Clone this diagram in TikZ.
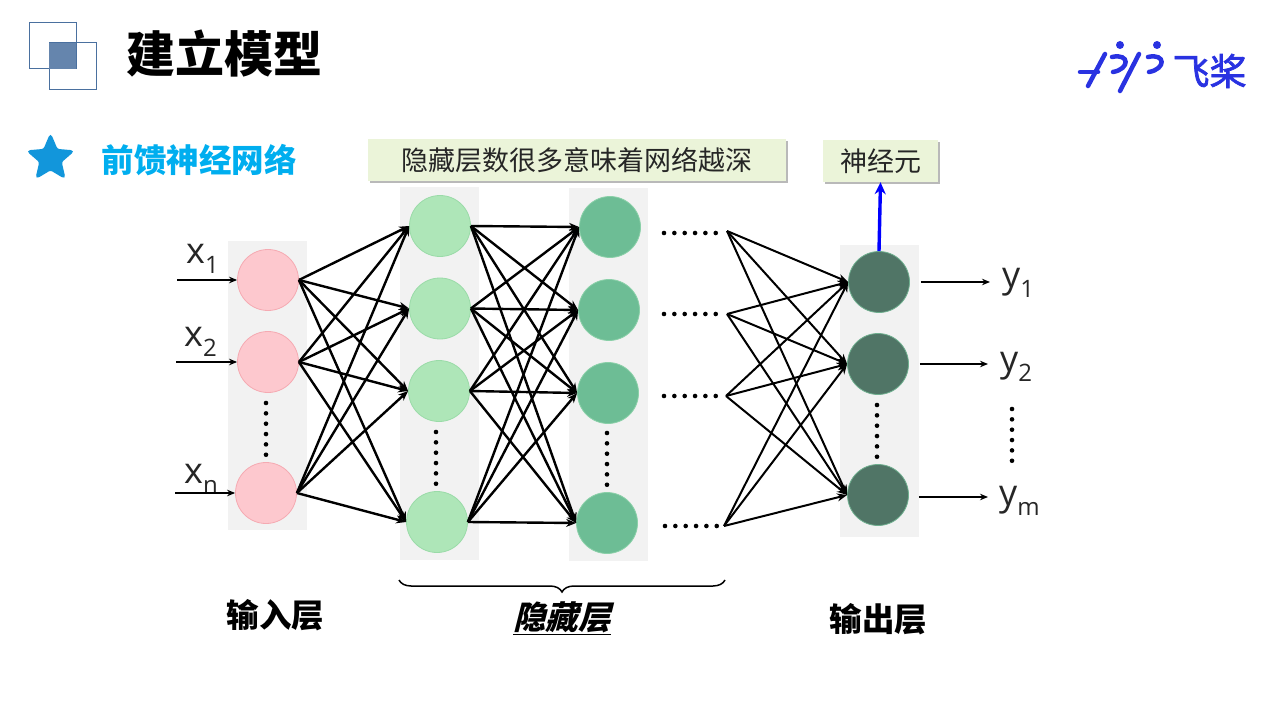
\documentclass[tikz,border=0pt]{standalone}
\usepackage{fontspec}
\setmainfont{Open Sans}
\newfontfamily\cjk{Noto Sans CJK SC}
\newfontfamily\cjkslant[FakeSlant=0.25]{Noto Sans CJK SC}
\newfontfamily\cjklogo[FakeBold=2]{Noto Sans CJK SC}
\usetikzlibrary{arrows.meta,shapes.geometric,shadows,decorations.pathreplacing}

\definecolor{layergray}{HTML}{F2F2F2}
\definecolor{notefill}{HTML}{EBF4D9}
\definecolor{skyblue}{HTML}{00AEEF}
\definecolor{starblue}{HTML}{1296DB}
\definecolor{squareblue}{HTML}{4A709F}
\definecolor{logoblue}{HTML}{2932E1}
\definecolor{inptfill}{HTML}{FDC8CE}
\definecolor{inptline}{HTML}{F5AAB2}
\definecolor{hidafill}{HTML}{AEE6B8}
\definecolor{hidaline}{HTML}{9ADBA8}
\definecolor{hidbfill}{HTML}{6DBD95}
\definecolor{hidbline}{HTML}{8AD0A8}
\definecolor{outpfill}{HTML}{507566}
\definecolor{outpline}{HTML}{6FAF8F}

\newcommand{\sublabel}[2]{#1{\fontsize{24}{24}\selectfont\raisebox{-10pt}{#2}}}

\begin{document}
\begin{tikzpicture}[
  x=1pt, y=-1pt,
  layerbox/.style={fill=layergray, minimum width=79pt, inner sep=0pt},
  neuron/.style={circle, draw, line width=0.8pt, minimum size=61pt, inner sep=0pt},
  inpt/.style={neuron, fill=inptfill, draw=inptline},
  hida/.style={neuron, fill=hidafill, draw=hidaline},
  hidb/.style={neuron, fill=hidbfill, draw=hidbline},
  outp/.style={neuron, fill=outpfill, draw=outpline},
  edge/.style={-{Stealth[length=10pt,width=8pt]}, line width=2.4pt, black},
  thinedge/.style={-{Stealth[length=8pt,width=6.5pt]}, line width=1.8pt, black},
  dotrow/.style={line width=4.6pt, line cap=round, dash pattern=on 0pt off 10.35pt, black},
  var/.style={font=\fontsize{36}{36}\selectfont, inner sep=0pt, anchor=base west, text=black!85},
  note/.style={fill=notefill, minimum height=42pt, inner sep=0pt, drop shadow={shadow xshift=1.5pt, shadow yshift=-2pt, fill=black!55},
    font=\cjk\fontsize{27}{27}\selectfont, text=black!85},
  layername/.style={font=\cjk\bfseries\fontsize{32.5}{32.5}\selectfont, inner sep=0pt},
  logostroke/.style={line width=4.5pt, logoblue, line cap=round},
]
\useasboundingbox (0,0) rectangle (1269,714);

% header
\draw[squareblue, line width=1pt] (29,23) rectangle (76,69);
\draw[squareblue, line width=1pt] (49,43) rectangle (96,90);
\fill[squareblue!85] (49,43) rectangle (76,69);
\node[font=\cjk\bfseries\fontsize{49}{49}\selectfont, inner sep=0pt] (title) at (224.5,54) {建立模型};
\node[star, star points=5, star point ratio=2.2, fill=starblue, draw=starblue, line width=2pt, rounded corners=2.5pt,
  minimum size=47pt, inner sep=0pt] (mark) at (50.5,158.5) {};
\node[font=\cjk\bfseries\fontsize{32.5}{32.5}\selectfont, text=skyblue, inner sep=0pt] (subtitle) at (199,160) {前馈神经网络};

% logo
\draw[logostroke] (1080,72) -- (1098,72);
\draw[logostroke] (1105,54) -- (1088,86);
\draw[logostroke] (1139,54) -- (1120,91);
\draw[logostroke] (1112,57) .. controls (1130,53) and (1130,69) .. (1113,72);
\draw[logostroke] (1148,57) .. controls (1166,53) and (1166,69) .. (1149,72);
\fill[logoblue] (1120,45) circle (4pt) (1157,45) circle (4pt);
\node[font=\cjklogo\fontsize{37}{37}\selectfont, text=logoblue, inner sep=0pt] (brand) at (1209.5,71) {飞桨};

% layer backgrounds
\node[layerbox, minimum height=289pt] (bginput) at (267,385.5) {};
\node[layerbox, minimum height=373pt] (bghida) at (439,373.5) {};
\node[layerbox, minimum height=373pt] (bghidb) at (608.5,374.5) {};
\node[layerbox, minimum height=292pt] (bgoutp) at (879,391) {};

% notes
\node[note, minimum width=418pt] (notedeep) at (577,160) {隐藏层数很多意味着网络越深};
\node[note, minimum width=115pt] (noteneuron) at (880.5,161) {神经元};

% neurons
\node[inpt] (i1) at (268,280) {};
\node[inpt] (i2) at (268,362) {};
\node[inpt] (i3) at (266,493) {};
\node[hida] (a1) at (440,226) {};
\node[hida] (a2) at (440,308.5) {};
\node[hida] (a3) at (439,391) {};
\node[hida] (a4) at (437,522) {};
\node[hidb] (b1) at (610,227) {};
\node[hidb] (b2) at (609,310) {};
\node[hidb] (b3) at (608,393) {};
\node[hidb] (b4) at (607,523) {};
\node[outp] (o1) at (879,282) {};
\node[outp] (o2) at (878,364) {};
\node[outp] (o3) at (878,495) {};

% free ends after the dotted gap
\coordinate (d1) at (727,231);
\coordinate (d2) at (727,314);
\coordinate (d3) at (726,396);
\coordinate (d4) at (724,526);

% full connections
\foreach \s in {i1,i2,i3}
  \foreach \t in {a1,a2,a3,a4}
    \draw[edge] (\s.east) -- (\t.west);
\foreach \s in {a1,a2,a3,a4}
  \foreach \t in {b1,b2,b3,b4}
    \draw[edge] (\s.east) -- (\t.west);
\foreach \s in {d1,d2,d3,d4}
  \foreach \t in {o1,o2,o3}
    \draw[edge, line width=2pt] (\s) -- (\t.west);

% dotted gaps
\draw[dotrow] (266,403) -- (266,455.5);
\draw[dotrow] (436,432) -- (436,484.5);
\draw[dotrow] (607,433) -- (607,485.5);
\draw[dotrow] (877,405) -- (877,457.5);
\draw[dotrow] (1012,409) -- (1012,461.5);
\draw[dotrow] (664,233) -- (716.5,233);
\draw[dotrow] (664,314) -- (716.5,314);
\draw[dotrow] (664,396) -- (716.5,396);
\draw[dotrow] (665,526) -- (717.5,526);

% inputs
\node[var] (x1) at (186,263) {\sublabel{x}{1}};
\node[var] (x2) at (184,346) {\sublabel{x}{2}};
\node[var] (xn) at (184,483) {\sublabel{x}{n}};
\coordinate (in1) at (177,280);
\coordinate (in2) at (176,362);
\coordinate (in3) at (175,493);
\draw[thinedge] (in1) -- (i1.west);
\draw[thinedge] (in2) -- (i2.west);
\draw[thinedge] (in3) -- (i3.west);

% outputs
\node[var] (y1) at (1002,287) {\sublabel{y}{1}};
\node[var] (y2) at (1000,371) {\sublabel{y}{2}};
\node[var] (ym) at (999,505) {\sublabel{y}{m}};
\draw[thinedge] ([xshift=11pt]o1.east) -- ([xshift=-12pt]y1.west |- o1.east);
\draw[thinedge] ([xshift=11pt]o2.east) -- ([xshift=-12pt]y2.west |- o2.east);
\draw[thinedge] ([xshift=10pt,yshift=-2pt]o3.east) -- ([xshift=-11pt,yshift=-2pt]ym.west |- o3.east);

% to the note
\draw[-{Stealth[length=12pt,width=11pt]}, blue, line width=3.4pt] (o1.north) -- (noteneuron.south);

% layer names
\coordinate (bl) at (399,580);
\coordinate (br) at (725,580);
\draw[decorate, decoration={brace, mirror, amplitude=12pt}, line width=1.5pt] (bl) -- (br);
\node[layername] (nameinput) at (275.5,615) {输入层};
\node[layername, font=\cjkslant\bfseries\fontsize{32.5}{32.5}\selectfont] (namehidden) at (562,618) {\underline{隐藏层}};
\node[layername] (nameoutp) at (878.5,619) {输出层};

\end{tikzpicture}
\end{document}
